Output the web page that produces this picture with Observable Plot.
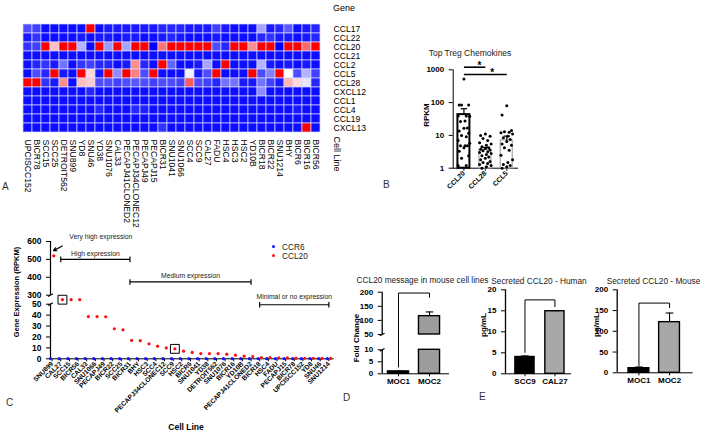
<!DOCTYPE html>
<html><head><meta charset="utf-8">
<script src="https://cdn.jsdelivr.net/npm/d3@7"></script>
<script src="https://cdn.jsdelivr.net/npm/@observablehq/plot@0.6"></script>
<style>
html,body{margin:0;padding:0;background:#fff;}
#fig{position:relative;width:709px;height:433px;overflow:hidden;font-family:"Liberation Sans",Arial,sans-serif;color:#000;background:#fff;}
#fig svg{position:absolute;overflow:visible;}
.t{position:absolute;white-space:nowrap;line-height:1;}
</style></head><body><div id="fig"></div>
<script>
// ---------------- DATA ----------------
// Panel A heatmap
const heatCols = ["UPCISCC152","BICR78","SCC15","SCC25","DETROIT562","SNU899","YD8","SNU46","YD38","SNU1076","CAL33","PECAPJ41CLONED2","PECAPJ34CLONEC12","PECAPJ49","PECAPJ15","BICR31","SNU1041","SNU1066","SCC4","SCC9","CAL27","FADU","HSC4","HSC3","HSC2","YD10B","BICR18","BICR22","SNU1214","BHY","BICR6","BICR16","BICR56"];
const heatGenes = ["CCL17","CCL22","CCL20","CCL21","CCL2","CCL5","CCL28","CXCL12","CCL1","CCL4","CCL19","CXCL13"];
const hCCL17 = [-0.7,-0.75,-0.95,-0.95,-0.95,-0.95,-0.95,1,-0.95,-0.9,-0.9,-0.9,-0.9,-0.9,-0.9,-0.85,-0.85,-0.85,-0.9,-0.9,-0.9,-0.75,-0.9,-0.95,-0.95,-0.95,-0.35,-0.9,-0.85,-0.65,-0.95,-0.9,-0.85];
const hCCL22 = [-0.9,-0.8,-0.95,-0.95,-0.95,-0.95,-0.9,-0.95,-0.9,-0.9,-0.95,-0.9,-0.9,-0.95,-0.95,-0.9,-0.85,-0.9,-0.95,-0.95,-0.95,-0.9,-0.95,-0.95,-0.95,-0.95,-0.85,-0.8,-0.9,-0.9,-0.95,-0.9,-0.85];
const hCCL20 = [-0.8,-0.75,1,0.25,1,1,-0.3,-0.95,1,-0.4,1,-0.35,1,1,-1,0.55,1,1,1,1,1,-0.7,-0.85,1,1,0.45,1,1,-1,1,1,0.6,1];
const hCCL21 = [-0.95,-0.95,-0.95,-0.95,-0.95,-0.95,-0.95,-0.95,-0.95,-0.95,-0.95,-0.95,-0.95,-0.95,-0.95,-0.95,-0.95,-0.95,-0.95,-0.95,-0.95,-0.95,-0.95,-0.95,-0.95,-0.95,-0.95,-0.95,-0.95,-0.95,-0.95,-0.95,-0.95];
const hCCL2 = [-0.95,-0.85,-0.8,-0.9,-0.55,-0.95,-0.8,-0.75,-0.85,-0.85,-0.95,-0.9,0.45,-0.85,-0.95,1,-0.6,-0.95,-0.95,-0.9,-0.35,-0.95,1,-0.95,-0.95,-0.95,-0.3,-0.9,-0.95,-0.9,-0.95,-0.9,-0.95];
const hCCL5 = [-0.95,-0.7,-0.85,1,-0.9,-0.95,1,0.15,-0.9,1,-0.45,1,0.5,-0.7,1,-0.95,-0.95,-0.95,-0.05,-0.9,-0.7,1,-0.95,-0.95,-0.95,1,-0.7,-0.5,1,0,-0.7,-0.3,-0.75];
const hCCL28 = [1,1,-0.8,-0.9,0.45,-0.95,0.25,0.2,-0.7,-0.7,-0.75,-0.7,-0.65,-0.7,-0.75,-0.7,-0.7,-0.75,0.65,-0.7,-0.75,-0.85,-0.55,-0.55,-0.9,-0.9,-0.55,-0.75,-0.9,0.3,0.15,-0.1,-0.85];
const hCXCL12 = [-0.95,-0.95,-0.95,-0.95,-0.95,-0.95,-0.95,-0.85,-0.95,-0.95,-0.95,-0.95,-0.95,-0.95,-0.95,-0.95,-0.95,-0.95,-0.95,-0.95,-0.95,-0.95,-0.95,-0.95,-0.95,-0.95,-0.45,-0.95,-0.95,-0.95,-0.95,-0.95,-0.95];
const hCCL1 = [-0.95,-0.95,-0.95,-0.95,-0.95,-0.95,-0.95,-0.95,-0.95,-0.95,-0.95,-0.95,-0.95,-0.95,-0.95,-0.95,-0.95,-0.95,-0.95,-0.95,-0.95,-0.95,-0.95,-0.95,-0.95,-0.95,-0.95,-0.95,-0.95,-0.95,-0.95,-0.95,-0.95];
const hCCL4 = [-0.95,-0.95,-0.95,-0.95,-0.95,-0.95,-0.95,-0.95,-0.85,-0.95,-0.95,-0.95,-0.85,-0.88,-0.95,-0.95,-0.95,-0.95,-0.95,-0.95,-0.95,-0.95,-0.95,-0.95,-0.95,-0.95,-0.95,-0.95,-0.95,-0.95,-0.9,-0.95,-0.95];
const hCCL19 = [-0.95,-0.95,-0.95,-0.95,-0.95,-0.95,-0.95,-0.95,-0.95,-0.95,-0.95,-0.95,-0.95,-0.95,-0.95,-0.95,-0.95,-0.95,-0.95,-0.95,-0.95,-0.95,-0.95,-0.95,-0.95,-0.95,-0.95,-0.95,-0.95,-0.95,-0.95,-0.95,-0.95];
const hCXCL13 = [-0.95,-0.95,-0.95,-0.95,-0.95,-0.95,-0.95,-0.95,-0.95,-0.95,-0.95,-0.95,-0.95,-0.95,-0.95,-0.8,-0.95,-0.95,-0.95,-0.95,-0.95,-0.95,-0.95,-0.95,-0.95,-0.95,-0.95,-0.95,-0.95,-0.95,-0.95,1,-0.95];
const heatRows = [hCCL17,hCCL22,hCCL20,hCCL21,hCCL2,hCCL5,hCCL28,hCXCL12,hCCL1,hCCL4,hCCL19,hCXCL13];

// Panel C scatter
const cLines = ["SNU899","CAL27","SCC15","BICR56","CAL33","SNU1066","PECAPJ49","BICR22","SCC25","BICR31","BHY","HSC3","SCC4","PECAPJ34CLONEC12","SCC9","HSC2","BICR6","SNU1041","YD38","DETROIT562","SNU1076","BICR16","YD10B","PECAPJ41CLONED2","BICR18","HSC4","FADU","PECAPJ15","BICR78","UPCISCC152","YD8","SNU46","SNU1214"];
const cCCL20 = [520,85,85,85,38.7,38.7,38.5,27.5,26.5,16.8,16.6,13.7,11.6,10,9.1,7,5.8,4.8,4.8,4.8,4.2,3.3,2.4,2.0,1.2,1.2,0.9,0.8,0.6,0.5,0.4,0.3,0.3];
const cCCR6 = [0.2,0.1,0.2,0.1,0.2,0.1,0.1,0.2,0.1,0.2,0.1,0.1,0.2,0.1,0.1,0.2,0.1,0.1,0.2,0.1,0.1,0.2,0.1,0.1,0.2,0.1,0.1,0.2,0.1,0.1,0.2,0.1,0.1];
const cBoxed = ["CAL27","SCC9"];
const cBreak = [50, 300];   // y-axis break: lower segment 0-50, upper 300-600

// Panel B
const bGenes = ["CCL20","CCL28","CCL5"];
const bMean = [43, 3.6, 7];
const bUpper = [65, 4.3, 9.5];
const bCCL28 = [11,10,9.5,8,7,6,5.5,5,4.5,4.2,4,3.8,3.6,3.4,3.2,3,2.8,2.6,2.4,2.2,2,1.8,1.6,1.5,1.4,1.3,1.2,1.1,1.0];
const bCCL5 = [80,42,14,13,12.5,12,11,9.5,8.5,7.5,6.5,5.5,5,4.2,3.5,2.5,1.8,1.5,1.3,1.2,1.1,1.0];

// Panel D
const dLines = ["MOC1","MOC2"];
const dFold = [1, 115];
const dUpper = [1.1, 130];
const dBreak = [10, 50];    // y-axis break: lower 0-10, upper 50-200
// Panel E
const eHumanLines = ["SCC9","CAL27"];
const eHuman = [4.0, 14.9];
const eHumanUpper = [4.25, 15.05];
const eMouseLines = ["MOC1","MOC2"];
const eMouse = [11, 122];
const eMouseUpper = [14, 144];

// ---------------- HELPERS ----------------
const fig = document.getElementById("fig");
const FONT = "Liberation Sans, Arial, sans-serif";
function put(svg, left, top){ svg.style.left = left+"px"; svg.style.top = top+"px"; fig.appendChild(svg); return svg; }
function label(text, x, y, o = {}){
  const d = document.createElement("div"); d.className = "t"; d.textContent = text;
  d.style.left = x+"px"; d.style.top = y+"px"; d.style.fontSize = (o.size||9)+"px";
  if (o.weight) d.style.fontWeight = o.weight; if (o.color) d.style.color = o.color;
  const ax = o.anchor === "middle" ? "-50%" : o.anchor === "end" ? "-100%" : "0";
  d.style.transform = `translate(${ax},-50%)` + (o.rotate ? ` rotate(${o.rotate}deg)` : "");
  fig.appendChild(d); return d;
}
function axisFont(svg, axis, size){ svg.querySelectorAll(`[aria-label^="${axis}-axis"] text`).forEach(t => { t.style.fontSize = size+"px"; }); }
const vline = {draw(ctx, size){ const r = Math.sqrt(size/Math.PI); ctx.moveTo(0,-r); ctx.lineTo(0,r); }};
const hline = {draw(ctx, size){ const r = Math.sqrt(size/Math.PI); ctx.moveTo(-r,0); ctx.lineTo(r,0); }};
const slash = {draw(ctx, size){ const r = Math.sqrt(size/Math.PI); ctx.moveTo(-r*0.8, r*0.45); ctx.lineTo(r*0.8,-r*0.45); }};
const baseStyle = (fs, fw) => ({background:"transparent", overflow:"visible", fontFamily: FONT, fontSize: fs+"px", fontWeight: fw||"normal", color:"#000"});

// ---------------- PANEL A ----------------
const heatData = heatGenes.flatMap((g, r) => heatRows[r].map((v, c) => ({gene: g, col: heatCols[c], v})));
put(Plot.plot({
  width: 360, height: 180, marginLeft: 17, marginRight: 35, marginTop: 22, marginBottom: 46,
  style: baseStyle(8.6),
  x: {domain: heatCols, padding: 0, tickRotate: 90, tickSize: 0, tickPadding: 5, label: null},
  y: {domain: heatGenes, padding: 0, tickSize: 0, tickPadding: 8, label: null, axis: "right"},
  color: {type: "linear", domain: [-1, 0, 1], range: ["#0000ff", "#ffffff", "#ff0000"]},
  marks: [Plot.cell(heatData, {x: "col", y: "gene", fill: "v", stroke: "#d6d6ff", strokeWidth: 0.7})]
}), 0, 0);
label("Gene", 333, 8.3, {size: 9});
label("Cell Line", 336, 154, {size: 9, anchor: "middle", rotate: 90});

// ---------------- PANEL B ----------------
const jit = [0, -0.22, 0.22, -0.11, 0.11, -0.27, 0.27, 0.05, -0.16, 0.16];
const bPts = [cCCL20.filter(v => v >= 1).sort((a, b) => b - a), bCCL28, bCCL5]
  .flatMap((vals, i) => vals.map((v, k) => ({x: i + jit[k % jit.length], v})));
const bBars = bGenes.map((g, i) => ({i, mean: bMean[i], up: bUpper[i]}));
const bHalf = 0.28;
const bSvg = put(Plot.plot({
  width: 130, height: 160, marginLeft: 52.7, marginRight: 13, marginTop: 29.3, marginBottom: 32.3,
  style: baseStyle(8, "bold"),
  x: {domain: [-0.5, 2.5], ticks: [0, 1, 2], tickFormat: i => bGenes[i], tickRotate: -45, tickSize: 3, tickPadding: 1, label: null, line: true},
  y: {type: "log", domain: [1, 1000], ticks: [1, 10, 100, 1000], tickFormat: d3.format("d"), tickSize: 4, label: null, line: true},
  marks: [
    Plot.rectY(bBars.filter(d => d.i > 0), {x1: d => d.i - bHalf, x2: d => d.i + bHalf, y1: 1, y2: "mean", fill: "white", stroke: "#b4b4b4", strokeWidth: 1.4}),
    Plot.rectY(bBars.filter(d => d.i === 0), {x1: d => d.i - bHalf, x2: d => d.i + bHalf, y1: 1, y2: "mean", fill: "white", stroke: "black", strokeWidth: 2}),
    Plot.ruleX(bBars, {x: "i", y1: "mean", y2: "up", stroke: "black", strokeWidth: 1.2}),
    Plot.dot(bBars, {x: "i", y: "up", symbol: hline, r: 3.2, stroke: "black", fill: "none", strokeWidth: 1.2}),
    Plot.dot(bPts, {x: "x", y: "v", r: 1.5, fill: "black", stroke: "none"}),
    Plot.link([{a: 0, b: 1, y: 1200}, {a: 0, b: 2, y: 720}], {x1: "a", x2: "b", y1: "y", y2: "y", stroke: "black", strokeWidth: 1.6}),
    Plot.text([{x: 0.73, y: 1600}, {x: 1.32, y: 980}], {x: "x", y: "y", text: () => "*", fontSize: 10, dy: 2.5})
  ]
}), 400, 40);
axisFont(bSvg, "x", 7);
label("Top Treg Chemokines", 470, 52.7, {size: 8.5, anchor: "middle", color: "#222"});
label("RPKM", 426.7, 115, {size: 8, weight: "bold", anchor: "middle", rotate: -90});

// ---------------- PANEL C (broken y axis: three stacked linear plots) ----------------
const cXDomain = [-0.185, 32.5];
const cRed = cLines.map((c, i) => ({i, v: cCCL20[i], boxed: cBoxed.includes(c)}));
const cBlue = cLines.map((c, i) => ({i, v: cCCR6[i]}));
const cBrackets = [
  {a: "CAL27", b: "BICR31", y: 500, text: "High expression", ty: 533},
  {a: "BICR31", b: "PECAPJ41CLONED2", y: 374, text: "Medium expression", ty: 408}
].map(d => ({...d, i1: cLines.indexOf(d.a), i2: cLines.indexOf(d.b)}));
const cBracketLow = [{a: "BICR18", b: "SNU1214", y: 49.5, text: "Minimal or no expression", ty: 57}]
  .map(d => ({...d, i1: cLines.indexOf(d.a), i2: cLines.indexOf(d.b)}));
const ends = arr => arr.flatMap(d => [{i: d.i1, y: d.y}, {i: d.i2, y: d.y}]);
function cPlot({top, height, marginTop, marginBottom, yDomain, ticks, showX, marks}) {
  return put(Plot.plot({
    width: 345, height, marginLeft: 50, marginRight: 12.3, marginTop, marginBottom,
    style: baseStyle(8.5, "bold"),
    x: showX ? {domain: cXDomain, ticks: d3.range(cLines.length), tickFormat: i => cLines[i], tickRotate: -45, tickSize: 3, tickPadding: 1, label: null, line: true}
             : {domain: cXDomain, axis: null},
    y: ticks ? {domain: yDomain, ticks, tickFormat: d3.format("d"), tickSize: 4, label: null} : {domain: yDomain, axis: null},
    marks
  }), 0, top);
}
const txtOpts = {fontSize: 6.8, fontWeight: "normal", fill: "#222"};
// upper segment 300-600
cPlot({top: 230, height: 70, marginTop: 11, marginBottom: 5.3, yDomain: [cBreak[1], 600], ticks: [300, 400, 500, 600], showX: false, marks: [
  Plot.ruleX([{y1: cBreak[1], y2: 600}], {x: () => cXDomain[0], y1: "y1", y2: "y2", stroke: "black", strokeWidth: 1.2}),
  Plot.dot([{y: cBreak[1]}], {x: () => cXDomain[0], y: "y", symbol: slash, r: 3, stroke: "black", fill: "none", strokeWidth: 1.1}),
  Plot.dot(cRed.filter(d => d.v >= cBreak[1]), {x: "i", y: "v", r: 1.6, fill: "#ff1010", stroke: "none", dx: 1.7}),
  Plot.link(cBrackets, {x1: "i1", x2: "i2", y1: "y", y2: "y", stroke: "black", strokeWidth: 1.2}),
  Plot.dot(ends(cBrackets), {x: "i", y: "y", symbol: vline, r: 2.8, stroke: "black", fill: "none", strokeWidth: 1.2}),
  Plot.text(cBrackets, {x: d => (d.i1 + d.i2) / 2, y: "ty", text: "text", ...txtOpts}),
  Plot.text([{i: 1, y: 628}], {x: "i", y: "y", text: () => "Very high expression", textAnchor: "start", dx: 8.5, ...txtOpts}),
  Plot.arrow([{a: 1, ya: 575, b: 0, yb: 549}], {x1: "a", y1: "ya", x2: "b", y2: "yb", dx: 1.5, stroke: "black", strokeWidth: 1.2, headLength: 5})
]});
// break region: values between 50 and 300 drawn inside the gap
cPlot({top: 290, height: 20, marginTop: 4.7, marginBottom: 6.3, yDomain: [cBreak[0], 120], ticks: null, showX: false, marks: [
  Plot.dot(cRed.filter(d => d.v > cBreak[0] && d.v < cBreak[1]), {x: "i", y: "v", r: 1.6, fill: "#ff1010", stroke: "none", dx: 1.7}),
  Plot.dot(cRed.filter(d => d.boxed && d.v > cBreak[0] && d.v < cBreak[1]), {x: "i", y: "v", symbol: "square", r: 5, stroke: "black", fill: "none", strokeWidth: 1, dx: 1.7})
]});
// lower segment 0-50
const cLow = cPlot({top: 295, height: 138, marginTop: 8.7, marginBottom: 74.7, yDomain: [0, cBreak[0]], ticks: [0, 10, 20, 30, 40, 50], showX: true, marks: [
  Plot.ruleX([{y1: 0, y2: cBreak[0]}], {x: () => cXDomain[0], y1: "y1", y2: "y2", stroke: "black", strokeWidth: 1.2}),
  Plot.dot([{y: cBreak[0]}], {x: () => cXDomain[0], y: "y", symbol: slash, r: 3, stroke: "black", fill: "none", strokeWidth: 1.1}),
  Plot.dot(cBlue, {x: "i", y: "v", r: 1.6, fill: "#1414ff", stroke: "none", dx: -1.6}),
  Plot.dot(cRed.filter(d => d.v <= cBreak[0]), {x: "i", y: "v", r: 1.6, fill: "#ff1010", stroke: "none", dx: 1.7}),
  Plot.dot(cRed.filter(d => d.boxed && d.v <= cBreak[0]), {x: "i", y: "v", symbol: "square", r: 5, stroke: "black", fill: "none", strokeWidth: 1, dx: 1.7}),
  Plot.link(cBracketLow, {x1: "i1", x2: "i2", y1: "y", y2: "y", stroke: "black", strokeWidth: 1.2}),
  Plot.dot(ends(cBracketLow), {x: "i", y: "y", symbol: vline, r: 2.8, stroke: "black", fill: "none", strokeWidth: 1.2}),
  Plot.text(cBracketLow, {x: d => (d.i1 + d.i2) / 2, y: "ty", text: "text", ...txtOpts})
]});
axisFont(cLow, "x", 6.6);
label("Gene Expression (RPKM)", 16.7, 291.7, {size: 7.5, weight: "bold", anchor: "middle", rotate: -90});
label("Cell Line", 186, 427, {size: 8.5, weight: "bold", anchor: "middle"});
[["CCR6", "#1414ff", 246.7], ["CCL20", "#ff1010", 255.7]].forEach(([t, col, y]) => {
  const dot = document.createElement("div");
  dot.style.cssText = `position:absolute;left:271.5px;top:${y-1.6}px;width:3.2px;height:3.2px;border-radius:50%;background:${col}`;
  fig.appendChild(dot);
  label(t, 282, y, {size: 8.3, color: "#222"});
});

// ---------------- BAR PANELS D / E ----------------
function barPlot({cats, xDomain, yDomain, ticks, segs, bars, bracket, half, showX, slashAt, width, height, marginLeft, marginRight, marginTop, marginBottom}) {
  const marks = [
    Plot.ruleX([{y1: yDomain[0], y2: yDomain[1]}], {x: () => xDomain[0], y1: "y1", y2: "y2", stroke: "black", strokeWidth: 1.3}),
    Plot.rectY(segs, {x1: d => d.i - half, x2: d => d.i + half, y1: "y1", y2: "y2", fill: "fill", stroke: "black", strokeWidth: 1.4}),
    Plot.ruleX(bars, {x: "i", y1: "v", y2: "up", stroke: "black", strokeWidth: 1.1}),
    Plot.dot(bars, {x: "i", y: "up", symbol: hline, r: 3.8, stroke: "black", fill: "none", strokeWidth: 1.1}),
    Plot.line(bracket, {x: "x", y: "y", stroke: "black", strokeWidth: 1})
  ];
  if (slashAt != null) marks.push(Plot.dot([{y: slashAt}], {x: () => xDomain[0], y: "y", symbol: slash, r: 3, stroke: "black", fill: "none", strokeWidth: 1.1}));
  return Plot.plot({
    width, height, marginLeft, marginRight, marginTop, marginBottom,
    style: baseStyle(8, "bold"),
    color: {type: "identity"},
    x: showX ? {domain: xDomain, ticks: [0, 1], tickFormat: i => cats[i], tickSize: 3, tickPadding: 2, label: null, line: true} : {domain: xDomain, axis: null},
    y: {domain: yDomain, ticks, tickFormat: d3.format("d"), tickSize: 4, label: null},
    marks
  });
}

// Panel D (broken axis: 0-10 and 50-200)
const dFills = ["black", "#9c9c9c"];
const dX = [-0.526, 1.613];
put(barPlot({
  cats: dLines, xDomain: dX, yDomain: [dBreak[1], 200], ticks: [50, 100, 150, 200],
  segs: dLines.map((c, i) => ({i, y1: dBreak[1], y2: dFold[i], fill: dFills[i]})).filter(d => d.y2 > dBreak[1]),
  bars: dLines.map((c, i) => ({i, v: dFold[i], up: dUpper[i]})).filter(d => d.v > dBreak[1]),
  bracket: [{x: 0, y: dBreak[1]}, {x: 0, y: 197}, {x: 1, y: 197}, {x: 1, y: 182}],
  half: 0.34, showX: false, slashAt: dBreak[1],
  width: 120, height: 60, marginLeft: 41.7, marginRight: 12, marginTop: 11.7, marginBottom: 6
}), 340, 280);
put(barPlot({
  cats: dLines, xDomain: dX, yDomain: [0, dBreak[0]], ticks: [0, 5, 10],
  segs: dLines.map((c, i) => ({i, y1: 0, y2: Math.min(dFold[i], dBreak[0]), fill: dFills[i]})),
  bars: dLines.map((c, i) => ({i, v: dFold[i], up: dUpper[i]})).filter(d => d.up <= dBreak[0]),
  bracket: [{x: 0, y: 2.8}, {x: 0, y: 16.4}],
  half: 0.34, showX: true, slashAt: dBreak[0],
  width: 120, height: 55, marginLeft: 41.7, marginRight: 12, marginTop: 9.3, marginBottom: 21.7
}), 340, 340);
label("CCL20 message in mouse cell lines", 422.5, 280, {size: 8.3, anchor: "middle", color: "#222"});
label("Fold Change", 356.7, 338, {size: 8, weight: "bold", anchor: "middle", rotate: -90});

// Panel E human
const eFills = ["black", "#a8a8a8"];
put(barPlot({
  cats: eHumanLines, xDomain: [-0.65, 1.52], yDomain: [0, 20], ticks: [0, 5, 10, 15, 20],
  segs: eHumanLines.map((c, i) => ({i, y1: 0, y2: eHuman[i], fill: eFills[i]})),
  bars: eHumanLines.map((c, i) => ({i, v: eHuman[i], up: eHumanUpper[i]})),
  bracket: [{x: 0, y: 5.1}, {x: 0, y: 17.6}, {x: 1, y: 17.6}, {x: 1, y: 16}],
  half: 0.32, showX: true, slashAt: null,
  width: 120, height: 125, marginLeft: 45, marginRight: 10, marginTop: 19.3, marginBottom: 21.7
}), 460, 270);
label("Secreted CCL20 - Human", 539, 281, {size: 8.3, anchor: "middle", color: "#222"});
label("pg/mL", 484, 325, {size: 8, weight: "bold", anchor: "middle", rotate: -90});

// Panel E mouse
put(barPlot({
  cats: eMouseLines, xDomain: [-0.71, 1.74], yDomain: [0, 200], ticks: [0, 50, 100, 150, 200],
  segs: eMouseLines.map((c, i) => ({i, y1: 0, y2: eMouse[i], fill: eFills[i]})),
  bars: eMouseLines.map((c, i) => ({i, v: eMouse[i], up: eMouseUpper[i]})),
  bracket: [{x: 0, y: 17.6}, {x: 0, y: 168}, {x: 1, y: 168}, {x: 1, y: 157}],
  half: 0.34, showX: true, slashAt: null,
  width: 125, height: 125, marginLeft: 36.7, marginRight: 13.3, marginTop: 19.3, marginBottom: 22.7
}), 580, 270);
label("Secreted CCL20 - Mouse", 653.5, 281, {size: 8.3, anchor: "middle", color: "#222"});
label("pg/mL", 596.7, 325, {size: 8, weight: "bold", anchor: "middle", rotate: -90});

// Panel letters
label("A", 2, 186.7, {size: 10, color: "#333"});
label("B", 383, 185, {size: 10, color: "#333"});
label("C", 6, 403, {size: 10, color: "#333"});
label("D", 343, 398, {size: 10, color: "#333"});
label("E", 479, 397, {size: 10, color: "#333"});
</script></body></html>
